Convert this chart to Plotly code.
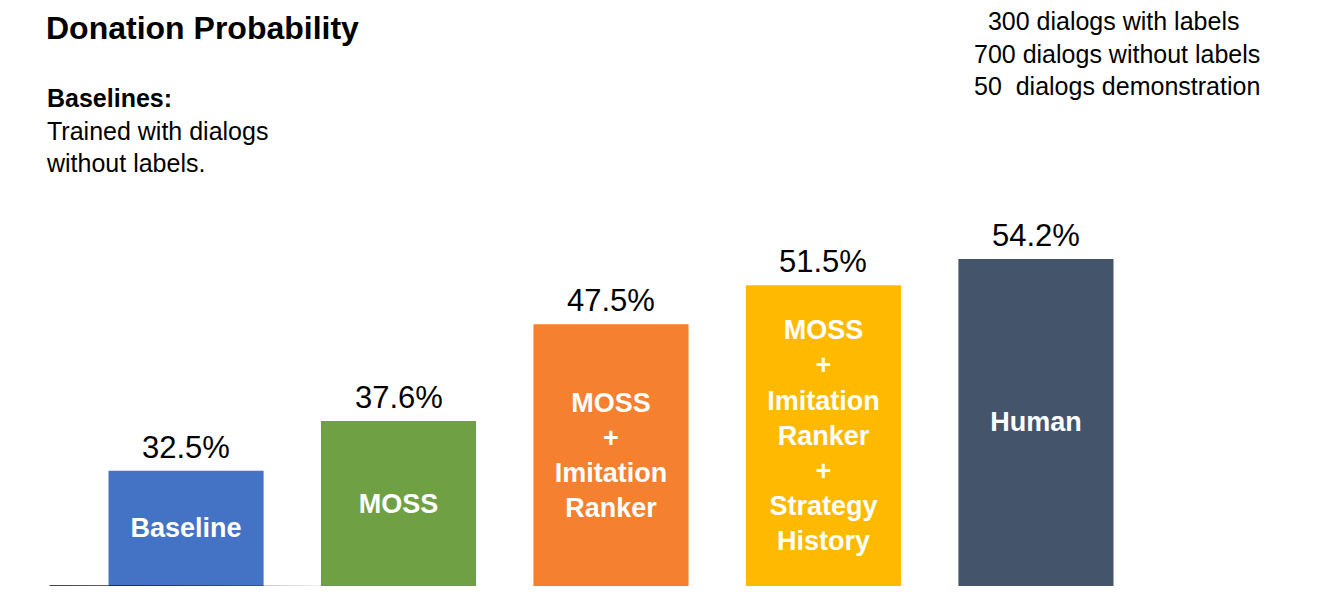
import plotly.graph_objects as go

categories = ["Baseline", "MOSS", "MOSS+Imitation Ranker", "MOSS+Imitation Ranker+Strategy History", "Human"]
bar_text = ["Baseline", "MOSS", "MOSS<br>+<br>Imitation<br>Ranker",
            "MOSS<br>+<br>Imitation<br>Ranker<br>+<br>Strategy<br>History", "Human"]
values = [32.5, 37.6, 47.5, 51.5, 54.2]
colors = ["#4472C4", "#70A044", "#F5802F", "#FFBA00", "#44546A"]

base = 20.7
FONT = "Liberation Sans, Arial, sans-serif"

fig = go.Figure()
fig.add_trace(go.Bar(
    x=list(range(len(categories))),
    y=[v - base for v in values],
    base=base,
    marker=dict(color=colors, line=dict(width=0)),
    text=bar_text,
    textposition="inside",
    insidetextanchor="middle",
    textfont=dict(family=FONT, size=27, color="white", weight="bold"),
    width=0.73,
    hoverinfo="skip",
))
# value labels above bars
for i, v in enumerate(values):
    fig.add_annotation(x=i, y=v, text=f"{v}%", showarrow=False, yanchor="bottom",
                       yshift=4, font=dict(family=FONT, size=31, color="black"))

fig.add_shape(type="line", xref="paper", yref="y", x0=0.031, x1=1, y0=base, y1=base - 0.35,
              line=dict(color="black", width=1.5))

fig.add_annotation(xref="paper", yref="paper", x=0.027, y=1.0, xanchor="left", yanchor="top",
                   text="<b>Donation Probability</b>", showarrow=False,
                   font=dict(family=FONT, size=32, color="black"))
fig.add_annotation(xref="paper", yref="paper", x=0.027, y=0.872, xanchor="left", yanchor="top",
                   align="left", showarrow=False,
                   text="<b>Baselines:</b><br>Trained with dialogs<br>without labels.",
                   font=dict(family=FONT, size=25, color="black"))
fig.add_annotation(xref="paper", yref="paper", x=0.828, y=1.005, xanchor="center", yanchor="top",
                   align="left", showarrow=False,
                   text="  300 dialogs with labels<br>700 dialogs without labels<br>50  dialogs demonstration",
                   font=dict(family=FONT, size=25, color="black"))

fig.update_layout(
    width=1339, height=600,
    paper_bgcolor="white", plot_bgcolor="white",
    margin=dict(l=0, r=0, t=0, b=22),
    showlegend=False,
    xaxis=dict(range=[-0.838, 5.464], visible=False),
    yaxis=dict(range=[base, 79.9], visible=False),
    uniformtext=dict(mode=False),
)
fig.write_html("out.html")
